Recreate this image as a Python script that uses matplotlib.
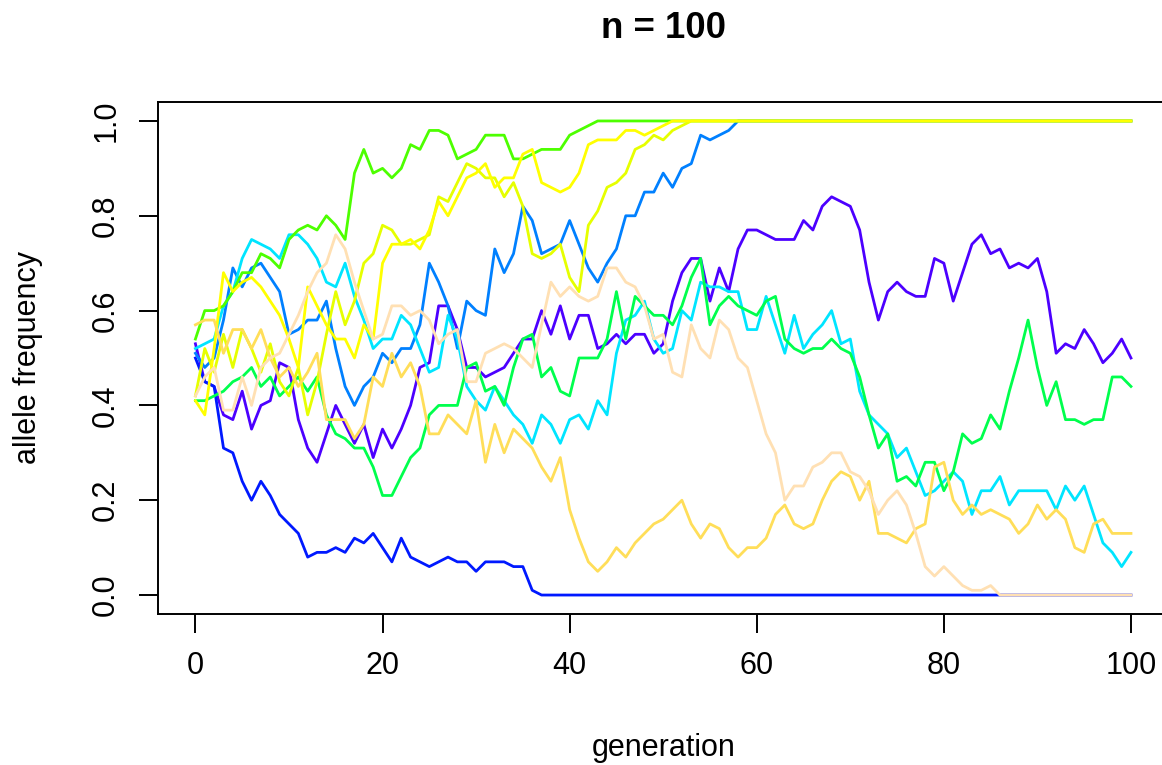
import matplotlib
matplotlib.use("Agg")
import matplotlib.pyplot as plt
import numpy as np

plt.rcParams['font.family'] = ['Liberation Sans', 'DejaVu Sans']

generation = list(range(101))

violet = [0.53, 0.45, 0.44, 0.38, 0.37, 0.43, 0.35, 0.40, 0.41, 0.49,
          0.48, 0.37, 0.31, 0.28, 0.34, 0.40, 0.36, 0.32, 0.36, 0.29,
          0.35, 0.31, 0.35, 0.40, 0.48, 0.49, 0.61, 0.61, 0.56, 0.48,
          0.48, 0.46, 0.47, 0.48, 0.51, 0.54, 0.54, 0.60, 0.55, 0.61,
          0.54, 0.59, 0.59, 0.52, 0.53, 0.55, 0.53, 0.55, 0.55, 0.51,
          0.53, 0.62, 0.68, 0.71, 0.71, 0.62, 0.69, 0.64, 0.73, 0.77,
          0.77, 0.76, 0.75, 0.75, 0.75, 0.79, 0.77, 0.82, 0.84, 0.83,
          0.82, 0.77, 0.66, 0.58, 0.64, 0.66, 0.64, 0.63, 0.63, 0.71,
          0.70, 0.62, 0.68, 0.74, 0.76, 0.72, 0.73, 0.69, 0.70, 0.69,
          0.71, 0.64, 0.51, 0.53, 0.52, 0.56, 0.53, 0.49, 0.51, 0.54,
          0.50]
blue = [0.50, 0.45, 0.44, 0.31, 0.30, 0.24, 0.20, 0.24, 0.21, 0.17,
        0.15, 0.13, 0.08, 0.09, 0.09, 0.10, 0.09, 0.12, 0.11, 0.13,
        0.10, 0.07, 0.12, 0.08, 0.07, 0.06, 0.07, 0.08, 0.07, 0.07,
        0.05, 0.07, 0.07, 0.07, 0.06, 0.06, 0.01] + [0.0] * 64
azure = [0.51, 0.48, 0.50, 0.58, 0.69, 0.65, 0.69, 0.70, 0.67, 0.64,
         0.55, 0.56, 0.58, 0.58, 0.62, 0.52, 0.44, 0.40, 0.44, 0.46,
         0.51, 0.49, 0.52, 0.52, 0.57, 0.70, 0.66, 0.61, 0.52, 0.62,
         0.60, 0.59, 0.73, 0.68, 0.72, 0.82, 0.79, 0.72, 0.73, 0.74,
         0.79, 0.74, 0.69, 0.66, 0.70, 0.73, 0.80, 0.80, 0.85, 0.85,
         0.89, 0.86, 0.90, 0.91, 0.97, 0.96, 0.97, 0.98] + [1.0] * 43
cyan = [0.52, 0.53, 0.54, 0.61, 0.64, 0.71, 0.75, 0.74, 0.73, 0.71,
        0.76, 0.76, 0.74, 0.71, 0.66, 0.65, 0.70, 0.63, 0.58, 0.52,
        0.54, 0.54, 0.59, 0.57, 0.52, 0.47, 0.48, 0.59, 0.54, 0.44,
        0.41, 0.39, 0.44, 0.41, 0.38, 0.36, 0.32, 0.38, 0.36, 0.32,
        0.37, 0.38, 0.35, 0.41, 0.38, 0.51, 0.58, 0.59, 0.62, 0.54,
        0.51, 0.52, 0.60, 0.58, 0.66, 0.65, 0.65, 0.64, 0.64, 0.56,
        0.56, 0.63, 0.57, 0.51, 0.59, 0.52, 0.55, 0.57, 0.60, 0.53,
        0.54, 0.43, 0.38, 0.36, 0.34, 0.29, 0.31, 0.26, 0.21, 0.22,
        0.24, 0.26, 0.24, 0.17, 0.22, 0.22, 0.25, 0.19, 0.22, 0.22,
        0.22, 0.22, 0.18, 0.23, 0.20, 0.23, 0.17, 0.11, 0.09, 0.06,
        0.09]
green = [0.41, 0.41, 0.42, 0.43, 0.45, 0.46, 0.48, 0.44, 0.46, 0.42,
         0.44, 0.46, 0.43, 0.46, 0.38, 0.34, 0.33, 0.31, 0.31, 0.27,
         0.21, 0.21, 0.25, 0.29, 0.31, 0.38, 0.40, 0.40, 0.40, 0.48,
         0.49, 0.43, 0.44, 0.40, 0.48, 0.54, 0.55, 0.46, 0.48, 0.43,
         0.42, 0.50, 0.50, 0.50, 0.54, 0.64, 0.54, 0.63, 0.61, 0.59,
         0.59, 0.57, 0.61, 0.67, 0.71, 0.57, 0.61, 0.63, 0.61, 0.60,
         0.59, 0.62, 0.63, 0.54, 0.52, 0.51, 0.52, 0.52, 0.54, 0.52,
         0.51, 0.46, 0.38, 0.31, 0.34, 0.24, 0.25, 0.23, 0.28, 0.28,
         0.22, 0.26, 0.34, 0.32, 0.33, 0.38, 0.35, 0.43, 0.50, 0.58,
         0.48, 0.40, 0.45, 0.37, 0.37, 0.36, 0.37, 0.37, 0.46, 0.46,
         0.44]
lightgreen = [0.54, 0.60, 0.60, 0.61, 0.64, 0.68, 0.68, 0.72, 0.71, 0.69,
              0.75, 0.77, 0.78, 0.77, 0.80, 0.78, 0.75, 0.89, 0.94, 0.89,
              0.90, 0.88, 0.90, 0.95, 0.94, 0.98, 0.98, 0.97, 0.92, 0.93,
              0.94, 0.97, 0.97, 0.97, 0.92, 0.92, 0.93, 0.94, 0.94, 0.94,
              0.97, 0.98, 0.99] + [1.0] * 58
yellow1 = [0.42, 0.52, 0.47, 0.55, 0.48, 0.56, 0.52, 0.47, 0.53, 0.45,
           0.42, 0.48, 0.38, 0.45, 0.55, 0.64, 0.57, 0.62, 0.70, 0.72,
           0.78, 0.77, 0.74, 0.74, 0.75, 0.76, 0.84, 0.83, 0.87, 0.91,
           0.90, 0.88, 0.88, 0.84, 0.87, 0.82, 0.72, 0.71, 0.72, 0.74,
           0.67, 0.64, 0.78, 0.81, 0.86, 0.87, 0.89, 0.94, 0.95, 0.97,
           0.96, 0.98, 0.99] + [1.0] * 48
yellow2 = [0.41, 0.38, 0.52, 0.68, 0.64, 0.66, 0.67, 0.65, 0.62, 0.59,
           0.54, 0.48, 0.65, 0.61, 0.57, 0.54, 0.54, 0.50, 0.57, 0.54,
           0.70, 0.74, 0.74, 0.75, 0.73, 0.77, 0.83, 0.80, 0.84, 0.88,
           0.89, 0.91, 0.86, 0.88, 0.88, 0.93, 0.94, 0.87, 0.86, 0.85,
           0.86, 0.89, 0.95, 0.96, 0.96, 0.96, 0.98, 0.98, 0.97, 0.98,
           0.99] + [1.0] * 50
gold = [0.57, 0.58, 0.58, 0.51, 0.56, 0.56, 0.52, 0.56, 0.50, 0.46,
        0.48, 0.44, 0.47, 0.51, 0.37, 0.37, 0.37, 0.33, 0.36, 0.46,
        0.44, 0.51, 0.46, 0.49, 0.44, 0.34, 0.34, 0.38, 0.36, 0.34,
        0.41, 0.28, 0.36, 0.30, 0.35, 0.33, 0.31, 0.27, 0.24, 0.29,
        0.18, 0.12, 0.07, 0.05, 0.07, 0.10, 0.08, 0.11, 0.13, 0.15,
        0.16, 0.18, 0.20, 0.15, 0.12, 0.15, 0.14, 0.10, 0.08, 0.10,
        0.10, 0.12, 0.17, 0.19, 0.15, 0.14, 0.15, 0.20, 0.24, 0.26,
        0.25, 0.20, 0.24, 0.13, 0.13, 0.12, 0.11, 0.14, 0.15, 0.27,
        0.28, 0.20, 0.17, 0.19, 0.17, 0.18, 0.17, 0.16, 0.13, 0.15,
        0.19, 0.16, 0.18, 0.16, 0.10, 0.09, 0.15, 0.16, 0.13, 0.13,
        0.13]
wheat = [0.42, 0.46, 0.48, 0.39, 0.39, 0.46, 0.40, 0.48, 0.50, 0.51,
         0.55, 0.59, 0.64, 0.68, 0.70, 0.76, 0.73, 0.66, 0.60, 0.54,
         0.55, 0.61, 0.61, 0.59, 0.60, 0.58, 0.53, 0.55, 0.56, 0.45,
         0.45, 0.51, 0.52, 0.53, 0.52, 0.50, 0.48, 0.57, 0.66, 0.63,
         0.65, 0.63, 0.62, 0.63, 0.69, 0.69, 0.66, 0.65, 0.61, 0.54,
         0.55, 0.47, 0.46, 0.57, 0.52, 0.50, 0.58, 0.56, 0.50, 0.48,
         0.41, 0.34, 0.30, 0.20, 0.23, 0.23, 0.27, 0.28, 0.30, 0.30,
         0.26, 0.25, 0.22, 0.17, 0.20, 0.22, 0.19, 0.13, 0.06, 0.04,
         0.06, 0.04, 0.02, 0.01, 0.01, 0.02] + [0.0] * 15

series = [violet, blue, azure, cyan, green, lightgreen, yellow1, yellow2, gold, wheat]
colors = ["#4C00FF", "#0019FF", "#0080FF", "#00E5FF", "#00FF4D",
          "#4DFF00", "#E6FF00", "#FFFF00", "#FFDE59", "#FFE0B3"]

xticks = [0, 20, 40, 60, 80, 100]
yticks = [0.0, 0.2, 0.4, 0.6, 0.8, 1.0]
yticklabels = ["0.0", "0.2", "0.4", "0.6", "0.8", "1.0"]

W, H = 1162, 765
fig = plt.figure(figsize=(W / 100, H / 100), dpi=100)
left, right, top, bottom = 158, 1168.4, 102, 614
ax = fig.add_axes([left / W, 1 - bottom / H, (right - left) / W, (bottom - top) / H])

for s, c in zip(series, colors):
    ax.plot(generation, s, color=c, lw=2.0, solid_joinstyle='round')

ax.set_xlim(-4, 104)
ax.set_ylim(-0.04, 1.04)
ax.set_xticks(xticks)
ax.set_yticks(yticks)
ax.set_yticklabels(yticklabels)
fs = 22
ax.tick_params(axis='both', direction='out', length=13.5, width=1.4,
               labelsize=fs, pad=13)
ax.tick_params(axis='y', labelrotation=90)
for lab in ax.get_yticklabels():
    lab.set_va('center')
for sp in ax.spines.values():
    sp.set_linewidth(1.4)

cx = (left + right) / 2 / W
fig.text(cx, 1 - 28 / H, "n = 100", ha='center', va='center',
         fontsize=fs * 1.2, fontweight='bold')
fig.text(cx, 1 - 748 / H, "generation", ha='center', va='center', fontsize=fs)
fig.text(28 / W, 1 - 358 / H, "allele frequency", ha='center', va='center',
         rotation=90, fontsize=fs)

fig.savefig("out.png", dpi=100)
